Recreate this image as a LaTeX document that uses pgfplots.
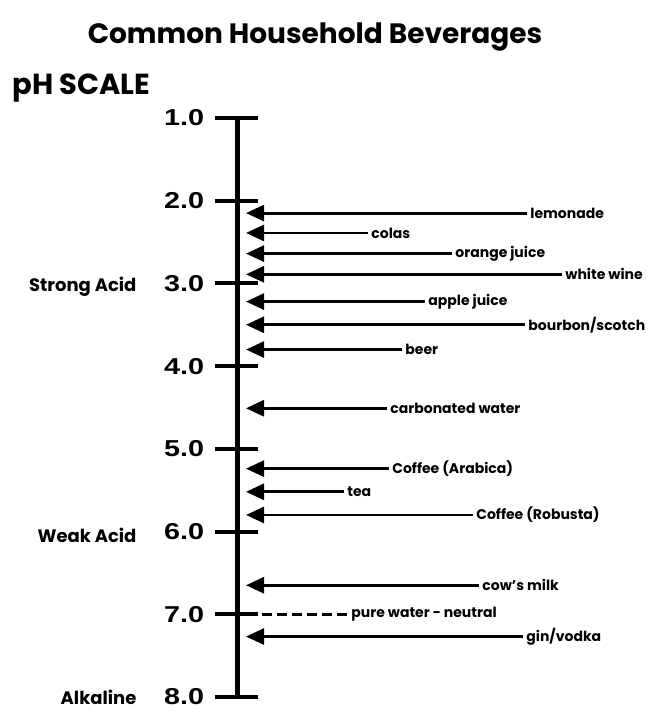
\documentclass[border=0pt]{standalone}
\usepackage{pgfplots}
\pgfplotsset{compat=1.18}
\usepackage{fontspec}
\setmainfont{Poppins}
\newfontfamily\tickfont{Liberation Sans}
\usetikzlibrary{arrows.meta}
\newcommand{\lab}{\fontsize{14}{16}\selectfont\bfseries}
\newcommand{\bev}[3]{\addplot[line width=2.8pt,-{Triangle[length=18pt,width=16pt]}] coordinates {(#2,#1) (246,#1)} node[pos=0,anchor=west,inner sep=2pt,font=\lab] {#3};}
\newcommand{\tk}[1]{\addplot[line width=4pt] coordinates {(215,#1) (258,#1)} node[pos=0,anchor=east,inner sep=0pt,xshift=-9pt,font=\fontsize{23}{24}\selectfont\bfseries\tickfont] {\scalebox{1.25}[1]{#1}};}
\begin{document}
\begin{tikzpicture}
\begin{axis}[x=1pt,y=82.7pt,y dir=reverse,xmin=0,xmax=648,ymin=-0.4268,ymax=8.1947,hide axis,clip=false]
\path (axis cs:0,-0.4268) rectangle (axis cs:648,8.1947);
% scale
\addplot[line width=5pt] coordinates {(237,1.0) (237,8.0)};
\tk{1.0}\tk{2.0}\tk{3.0}\tk{4.0}\tk{5.0}\tk{6.0}\tk{7.0}\tk{8.0}
% beverages
\bev{2.15}{527}{lemonade}
\bev{2.39}{368}{colas}
\bev{2.64}{452}{orange juice}
\bev{2.89}{562}{white wine}
\bev{3.22}{425}{apple juice}
\bev{3.50}{525}{bourbon/scotch}
\bev{3.80}{402}{beer}
\bev{4.51}{387}{carbonated water}
\bev{5.24}{389}{Coffee (Arabica)}
\bev{5.52}{344}{tea}
\bev{5.80}{473}{Coffee (Robusta)}
\bev{6.65}{479}{cow’s milk}
\bev{7.27}{523}{gin/vodka}
\addplot[line width=2.8pt,dash pattern=on 10pt off 5pt] coordinates {(262,7.0) (348,7.0)} node[pos=1,anchor=west,inner sep=2pt,font=\lab] {pure water - neutral};
% side labels
\node[anchor=east,font=\fontsize{18}{20}\selectfont\bfseries] at (axis cs:140,3.04) {Strong Acid};
\node[anchor=east,font=\fontsize{18}{20}\selectfont\bfseries] at (axis cs:140,6.05) {Weak Acid};
\node[anchor=east,font=\fontsize{18}{20}\selectfont\bfseries] at (axis cs:140,8.0) {Alkaline};
% titles
\node[font=\fontsize{28}{30}\selectfont\bfseries] at (axis cs:315,0.02) {Common Household Beverages};
\node[anchor=west,font=\fontsize{29}{31}\selectfont\bfseries] at (axis cs:9,0.637) {pH SCALE};
\end{axis}
\end{tikzpicture}
\end{document}
